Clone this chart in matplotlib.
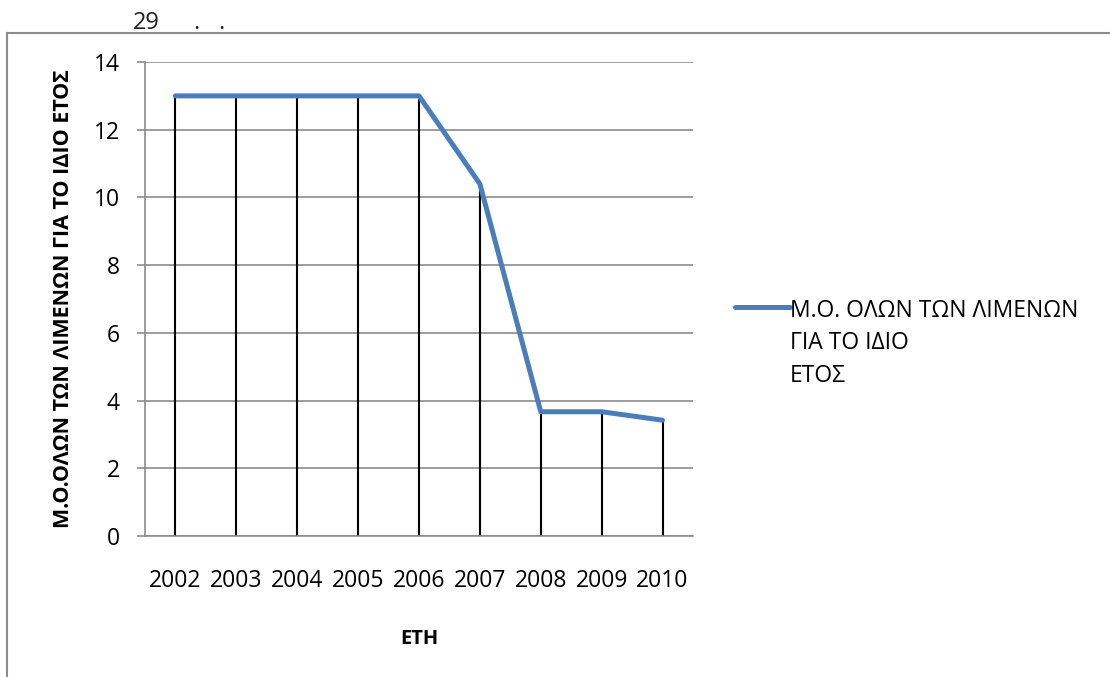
import matplotlib
matplotlib.use("Agg")
import matplotlib.pyplot as plt
from matplotlib.lines import Line2D

plt.rcParams['font.family'] = ['Open Sans', 'DejaVu Sans']

years = ["2002", "2003", "2004", "2005", "2006", "2007", "2008", "2009", "2010"]
values = [13.0, 13.0, 13.0, 13.0, 13.0, 10.4, 3.67, 3.67, 3.42]
series_name = "Μ.Ο. ΟΛΩΝ ΤΩΝ ΛΙΜΕΝΩΝ\nΓΙΑ ΤΟ ΙΔΙΟ\nΕΤΟΣ"
y_label = "Μ.Ο.ΟΛΩΝ ΤΩΝ ΛΙΜΕΝΩΝ ΓΙΑ ΤΟ ΙΔΙΟ ΕΤΟΣ"
x_label = "ΕΤΗ"
y_ticks = [0, 2, 4, 6, 8, 10, 12, 14]

fig = plt.figure(figsize=(11.1, 6.77), dpi=100)
ax = fig.add_axes([0.1306, 0.2083, 0.4937, 0.7001])

x = list(range(len(years)))
ax.vlines(x, 0, values, colors='black', linewidth=1.5, zorder=2)
ax.plot(x, values, color='#4a7ebb', linewidth=3.6, solid_capstyle='round',
        solid_joinstyle='round', zorder=3, label=series_name)

ax.set_xlim(-0.5, len(years) - 0.5)
ax.set_ylim(0, 14)
ax.set_yticks(y_ticks)
ax.set_xticks(x)
ax.set_xticklabels(years)
ax.yaxis.grid(True, color='#8c8c8c', linewidth=1.2)
ax.set_axisbelow(True)
for s in ['top', 'right']:
    ax.spines[s].set_visible(False)
for s in ['left', 'bottom']:
    ax.spines[s].set_color('#8c8c8c')
    ax.spines[s].set_linewidth(1.2)
ax.tick_params(axis='y', length=6, color='#8c8c8c', width=1.2, pad=12, labelsize=16.5)
ax.tick_params(axis='x', length=0, pad=24, labelsize=16.5)

ax.set_ylabel(y_label, fontsize=15.5, fontweight='bold', labelpad=14)
ax.set_xlabel(x_label, fontsize=14.5, fontweight='bold', labelpad=26)

leg_fs = 16.5
leg = ax.legend(loc='upper left', bbox_to_anchor=(1.06, 0.52), frameon=False,
                fontsize=leg_fs, handlelength=2.4, handletextpad=0.0,
                borderaxespad=0)
for t in leg.get_texts():
    t.set_linespacing(1.48)
# place the legend line next to the first text line
h = leg.legend_handles[0]
yd = h.get_ydata()
shift = 1.48 * leg_fs * 0.96 + 3.5
h.set_ydata([v + shift for v in yd])

fig.text(0.12, 0.957, "29", fontsize=17, color='#222222')
fig.text(0.174, 0.957, ".", fontsize=17, color='#222222')
fig.text(0.197, 0.957, ".", fontsize=17, color='#222222')

fig.add_artist(Line2D([0.0065, 0.0065], [0.0, 0.951], transform=fig.transFigure,
                      color='#8c8c8c', linewidth=1.5))
fig.add_artist(Line2D([0.0065, 1.0], [0.951, 0.951], transform=fig.transFigure,
                      color='#8c8c8c', linewidth=1.5))

fig.savefig("out.png", dpi=100)
